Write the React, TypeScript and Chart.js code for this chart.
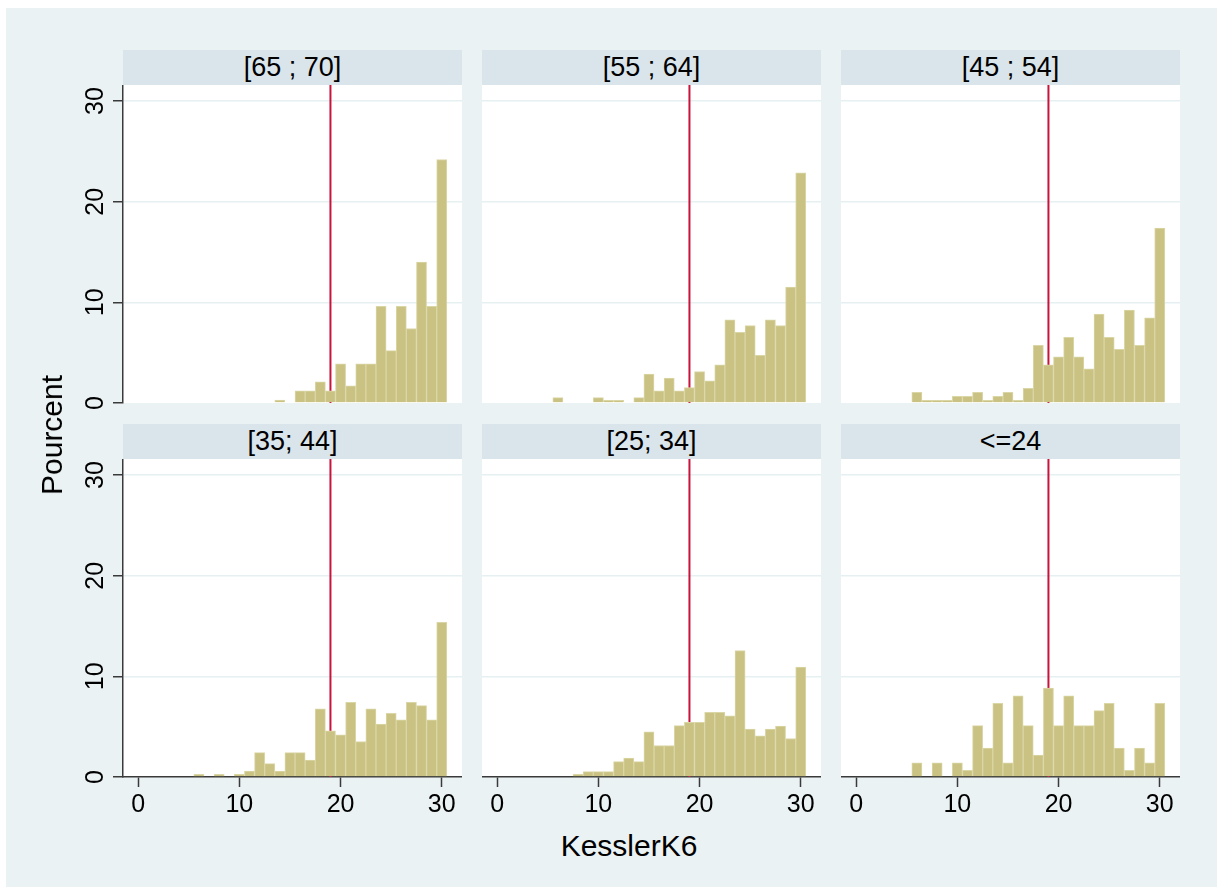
import React, { useEffect, useRef } from 'react';
import { Chart, registerables } from 'chart.js';

Chart.register(...registerables);

// ---------- data ----------
const bins = [6, 7, 8, 9, 10, 11, 12, 13, 14, 15, 16, 17, 18, 19, 20, 21, 22, 23, 24, 25, 26, 27, 28, 29, 30];

const panelTitles = ['[65 ; 70]', '[55 ; 64]', '[45 ; 54]', '[35; 44]', '[25; 34]', '<=24'];

const pct65to70 = [0, 0, 0, 0, 0, 0, 0, 0, 0.3, 0, 1.2, 1.2, 2.1, 1.2, 3.9, 1.7, 3.9, 3.9, 9.6, 5.2, 9.6, 7.4, 14.0, 9.6, 24.2];
const pct55to64 = [0.53, 0, 0, 0, 0.53, 0.27, 0.27, 0, 0.53, 2.87, 1.2, 2.47, 1.2, 1.53, 3.13, 2.2, 3.8, 8.27, 7.03, 7.7, 4.73, 8.27, 7.7, 11.53, 22.87];
const pct45to54 = [1.07, 0.27, 0.27, 0.27, 0.67, 0.67, 1.07, 0.27, 0.67, 1.07, 0.27, 1.47, 5.73, 3.8, 4.6, 6.53, 4.6, 3.4, 8.83, 6.53, 5.33, 9.23, 5.73, 8.47, 17.37];
const pct35to44 = [0.27, 0, 0.27, 0, 0.27, 0.6, 2.43, 1.33, 0.6, 2.43, 2.43, 1.67, 6.77, 4.6, 4.2, 7.43, 3.53, 6.77, 5.27, 6.33, 5.67, 7.43, 7.1, 5.67, 15.37];
const pct25to34 = [0, 0, 0.27, 0.53, 0.53, 0.53, 1.53, 1.87, 1.53, 4.5, 3.13, 3.13, 5.1, 5.43, 5.43, 6.43, 6.43, 6.07, 12.57, 4.77, 4.1, 4.77, 5.07, 3.83, 10.93];
const pctUpTo24 = [1.4, 0, 1.4, 0, 1.4, 0.67, 5.1, 2.87, 7.33, 1.4, 8.07, 5.1, 2.17, 8.83, 5.1, 8.07, 5.1, 5.1, 6.6, 7.33, 2.87, 0.67, 2.87, 1.4, 7.33];

const panelValues = [pct65to70, pct55to64, pct45to54, pct35to44, pct25to34, pctUpTo24];

const xTicks = [0, 10, 20, 30];
const yTicks = [0, 10, 20, 30];
const refLine = 19;
const xMin = -1.5;
const xMax = 32;
const yMin = 0;
const yMax = 31.6;

const yTitle = 'Pourcent';
const xTitle = 'KesslerK6';

// ---------- styling ----------
const FONT = '"Liberation Sans", Arial, Helvetica, sans-serif';
const BG = '#EAF2F3';
const STRIP = '#D9E5EB';
const GRID = '#E6EFF2';
const AXIS = '#3a3a3a';
const BAR_FILL = 'rgb(201,194,131)';
const BAR_EDGE = 'rgb(219,214,166)';
const RED = '#C8143C';

const colLeft = [123, 482, 841];
const rowStripTop = [50, 424];
const plotW = 339;
const plotH = 318;
const stripH = 35;
const Y_AXIS_W = 63;
const X_AXIS_H = 48;
const LABEL_PAD = 12;

const plotBgPlugin = {
  id: 'plotBg',
  beforeDraw(chart: any) {
    const { ctx, chartArea: a } = chart;
    ctx.save();
    ctx.fillStyle = '#ffffff';
    ctx.fillRect(a.left, a.top, a.right - a.left, a.bottom - a.top);
    ctx.restore();
  },
};

const yLabelPlugin = {
  id: 'yRotLabels',
  afterDraw(chart: any) {
    const s = chart.scales.y;
    const ctx = chart.ctx;
    ctx.save();
    ctx.fillStyle = '#000';
    ctx.font = `25px ${FONT}`;
    ctx.textAlign = 'center';
    ctx.textBaseline = 'alphabetic';
    for (const t of s.ticks) {
      const y = s.getPixelForValue(t.value);
      ctx.save();
      ctx.translate(chart.chartArea.left - 20, y);
      ctx.rotate(-Math.PI / 2);
      ctx.fillText(String(t.value), 0, 0);
      ctx.restore();
    }
    ctx.restore();
  },
};

function Panel({ idx }: { idx: number }) {
  const ref = useRef<HTMLCanvasElement | null>(null);
  const col = idx % 3;
  const row = Math.floor(idx / 3);
  const hasY = col === 0;
  const hasX = row === 1;
  const plotTop = rowStripTop[row] + stripH;
  const left = hasY ? colLeft[col] - Y_AXIS_W : colLeft[col];
  const width = plotW + (hasY ? Y_AXIS_W : 0);
  const bottomPad = !hasX && hasY ? LABEL_PAD : 0;
  const height = plotH + (hasX ? X_AXIS_H : 0) + bottomPad;

  useEffect(() => {
    const values = panelValues[idx];
    const chart = new Chart(ref.current as HTMLCanvasElement, {
      type: 'bar',
      data: {
        datasets: [
          {
            type: 'bar',
            data: bins.map((b, i) => ({ x: b, y: values[i] > 0 ? values[i] : null })),
            backgroundColor: BAR_FILL,
            borderColor: BAR_EDGE,
            borderWidth: 1,
            barPercentage: 1,
            categoryPercentage: 1,
            order: 1,
          } as any,
          {
            type: 'line',
            data: [
              { x: refLine, y: yMin },
              { x: refLine, y: yMax },
            ],
            borderColor: RED,
            borderWidth: 2,
            pointRadius: 0,
            fill: false,
            order: 2,
          } as any,
        ],
      },
      options: {
        animation: false,
        responsive: false,
        maintainAspectRatio: false,
        layout: { padding: { left: 0, right: 0, top: 0, bottom: bottomPad } },
        plugins: { legend: { display: false }, tooltip: { enabled: false } },
        scales: {
          x: {
            type: 'linear',
            min: xMin,
            max: xMax,
            offset: false,
            display: hasX,
            position: 'bottom',
            afterBuildTicks: (s: any) => {
              s.ticks = xTicks.map((v) => ({ value: v }));
            },
            afterFit: (s: any) => {
              if (hasX) s.height = X_AXIS_H;
            },
            grid: {
              offset: false,
              drawOnChartArea: false,
              drawTicks: true,
              tickLength: 10,
              tickColor: AXIS,
              tickWidth: 1.5,
            },
            border: { display: true, color: AXIS, width: 1.5 },
            ticks: {
              font: { family: FONT, size: 25 },
              color: '#000',
              padding: 3,
              maxRotation: 0,
              minRotation: 0,
              autoSkip: false,
            },
          },
          y: {
            type: 'linear',
            min: yMin,
            max: yMax,
            position: 'left',
            afterBuildTicks: (s: any) => {
              s.ticks = yTicks.map((v) => ({ value: v }));
            },
            afterFit: (s: any) => {
              s.width = hasY ? Y_AXIS_W : 0;
            },
            grid: {
              color: (c: any) => (c.tick && c.tick.value === 0 ? 'rgba(0,0,0,0)' : GRID),
              lineWidth: 1.5,
              drawTicks: hasY,
              tickLength: 10,
              tickColor: AXIS,
              tickWidth: 1.5,
            },
            border: { display: hasY, color: AXIS, width: 1.5 },
            ticks: { display: false },
          },
        },
      } as any,
      plugins: hasY ? [plotBgPlugin, yLabelPlugin] : [plotBgPlugin],
    });
    return () => chart.destroy();
  }, [idx]);

  return (
    <>
      <div
        style={{
          position: 'absolute',
          left: colLeft[col],
          top: rowStripTop[row],
          width: plotW,
          height: stripH,
          background: STRIP,
          display: 'flex',
          alignItems: 'center',
          justifyContent: 'center',
          fontFamily: FONT,
          fontSize: 27,
          lineHeight: 1,
          color: '#000',
          whiteSpace: 'nowrap',
        }}
      >
        {panelTitles[idx]}
      </div>
      <canvas
        ref={ref}
        width={width}
        height={height}
        style={{ position: 'absolute', left, top: plotTop, width, height }}
      />
    </>
  );
}

export default function App() {
  return (
    <div
      style={{
        position: 'absolute',
        left: 0,
        top: 0,
        width: 1217,
        height: 887,
        overflow: 'hidden',
        background: '#ffffff',
      }}
    >
      <div style={{ position: 'absolute', left: 6, top: 8, width: 1211, height: 879, background: BG }} />
      {[0, 1, 2, 3, 4, 5].map((i) => (
        <Panel key={i} idx={i} />
      ))}
      <div
        style={{
          position: 'absolute',
          left: 52,
          top: 435,
          transform: 'translate(-50%, -50%) rotate(-90deg)',
          fontFamily: FONT,
          fontSize: 30,
          lineHeight: '30px',
          color: '#000',
          whiteSpace: 'nowrap',
        }}
      >
        {yTitle}
      </div>
      <div
        style={{
          position: 'absolute',
          left: 629,
          top: 846,
          transform: 'translate(-50%, -50%)',
          fontFamily: FONT,
          fontSize: 30,
          lineHeight: '30px',
          color: '#000',
          whiteSpace: 'nowrap',
        }}
      >
        {xTitle}
      </div>
    </div>
  );
}
